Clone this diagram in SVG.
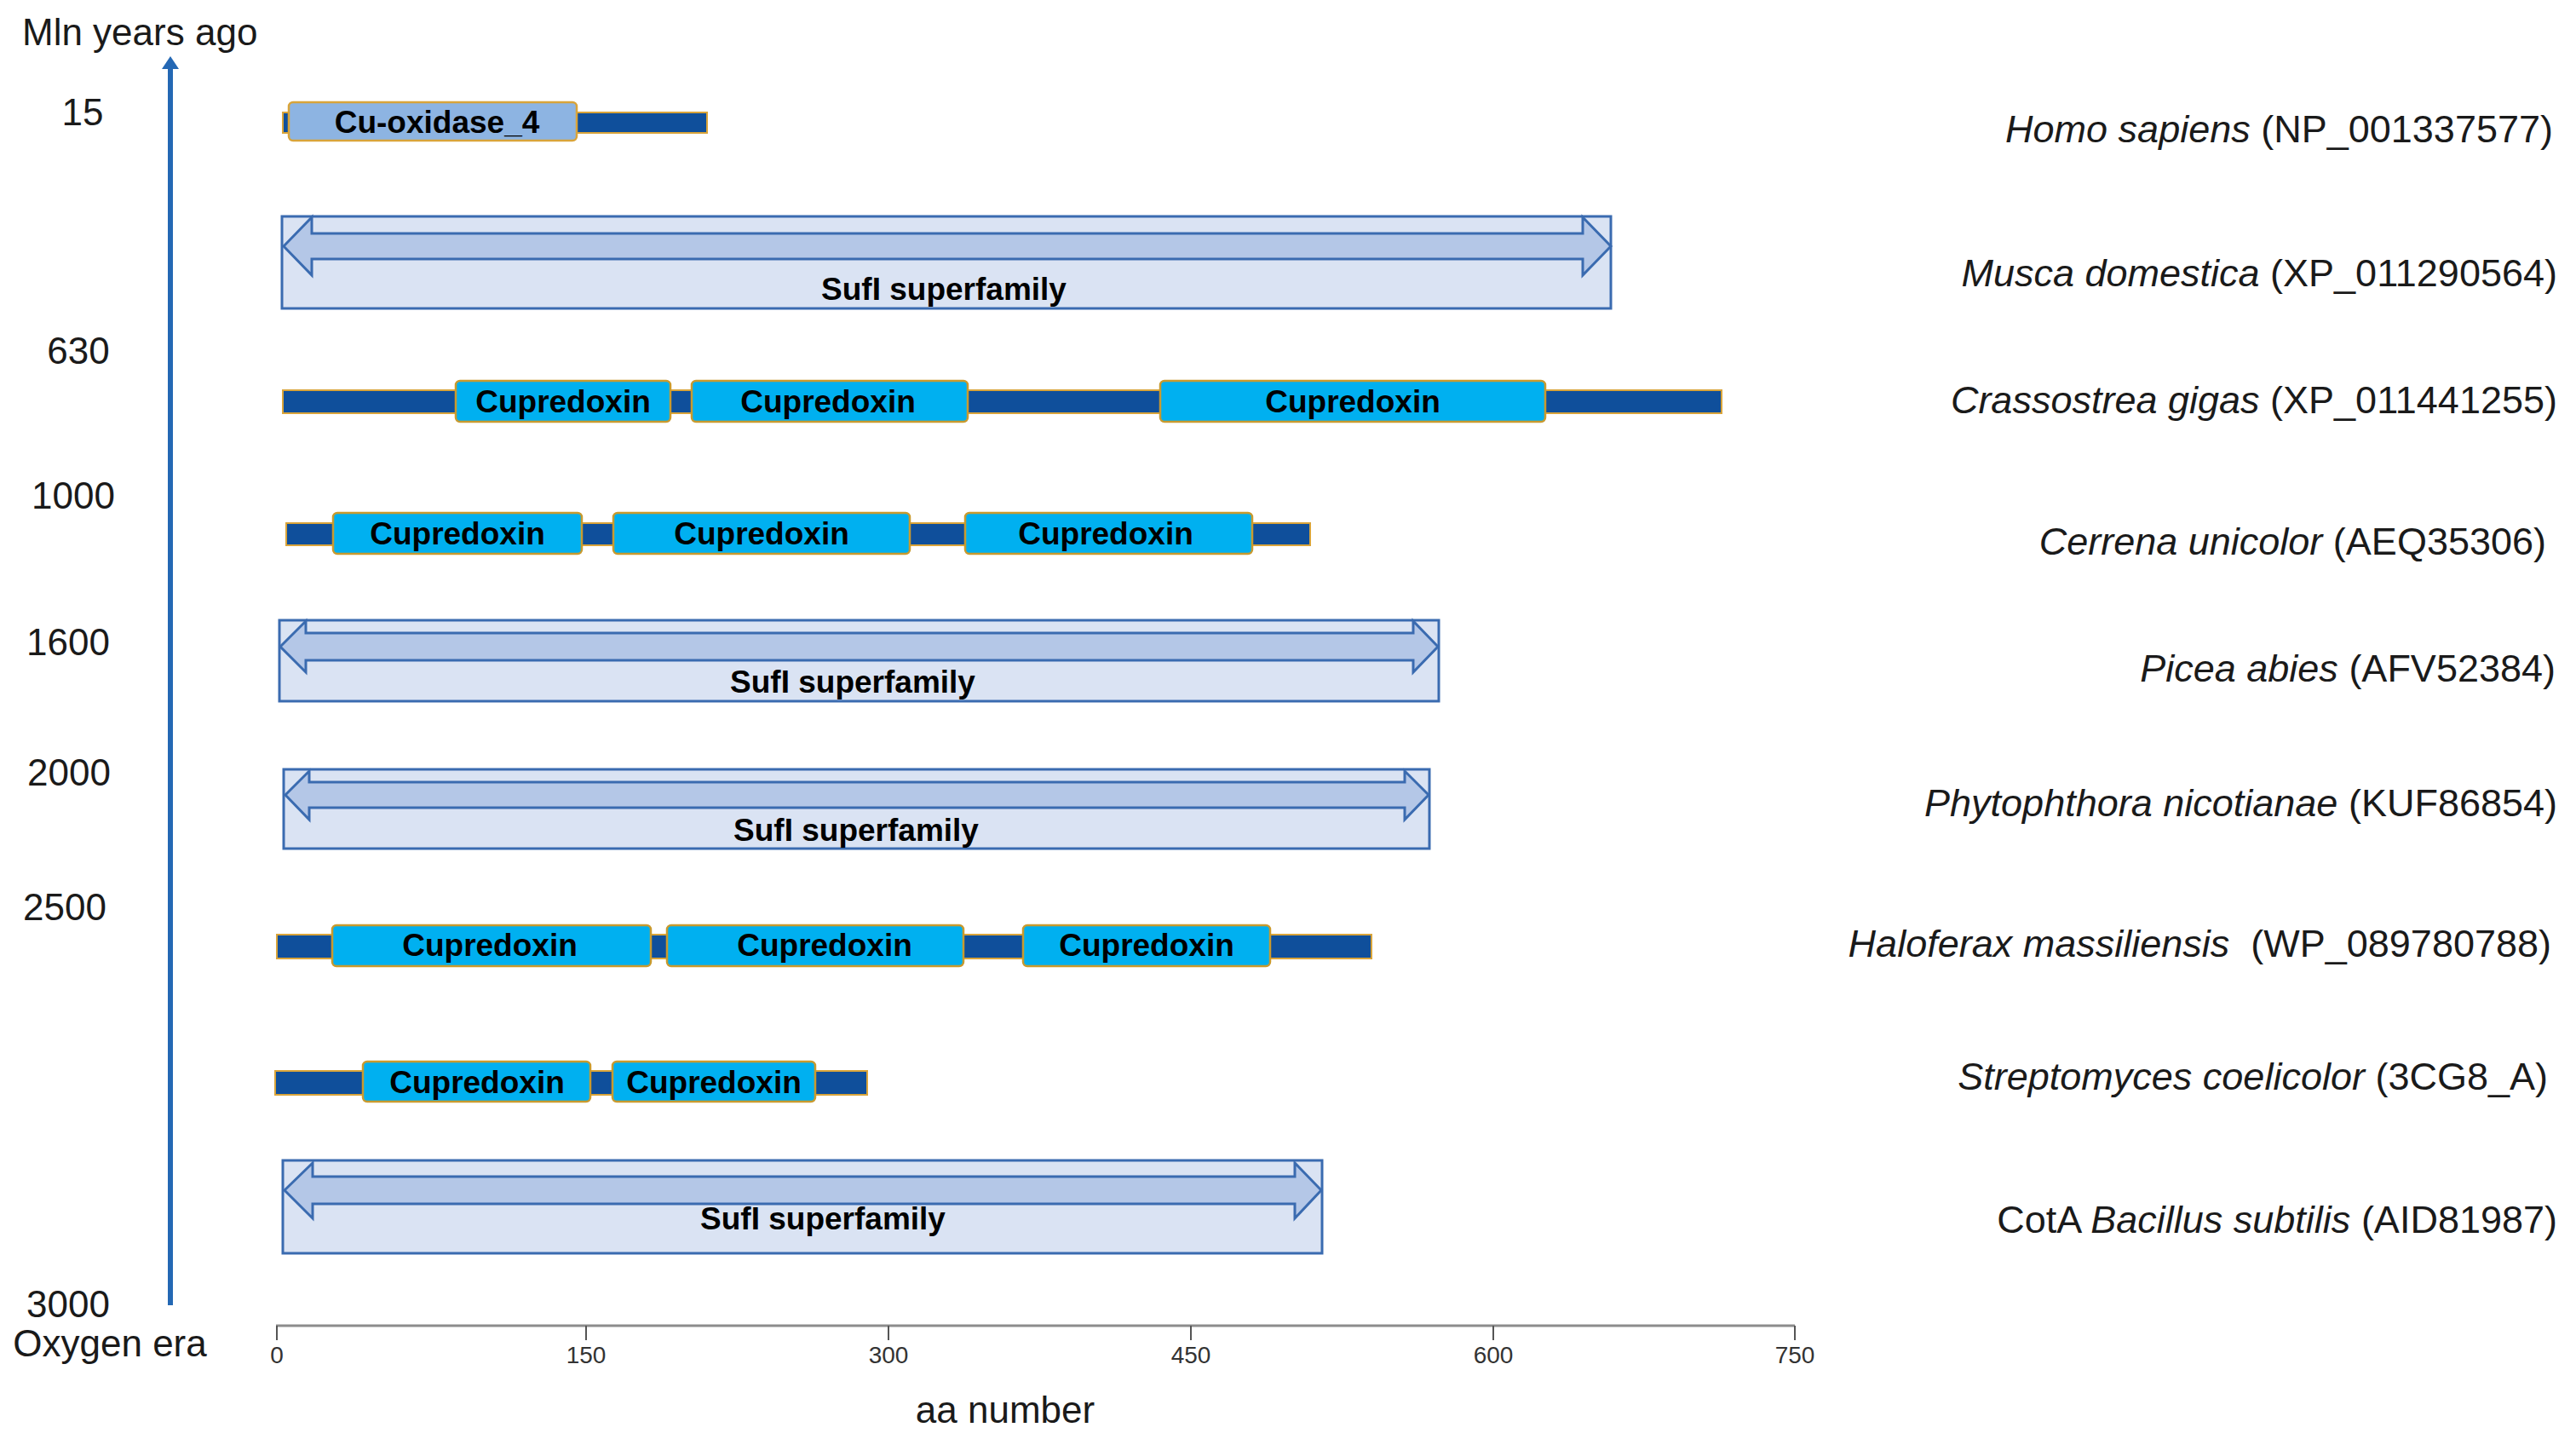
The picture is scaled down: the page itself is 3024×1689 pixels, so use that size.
<svg xmlns="http://www.w3.org/2000/svg" width="3024" height="1689" viewBox="0 0 3024 1689">
<style>
  .txt { font-family: "Liberation Sans", Arial, sans-serif; font-size: 44px; fill: #1a1a1a; }
  .num { font-family: "Liberation Sans", Arial, sans-serif; font-size: 44px; fill: #1a1a1a; text-anchor: middle; }
  .tick { font-family: "Liberation Sans", Arial, sans-serif; font-size: 28px; fill: #333; text-anchor: middle; }
  .lbl { font-family: "Liberation Sans", Arial, sans-serif; font-size: 45px; fill: #1a1a1a; text-anchor: end; }
  .dom { font-family: "Liberation Sans", Arial, sans-serif; font-size: 37px; font-weight: bold; fill: #000; text-anchor: middle; }
  .bb { fill: #0F4F9B; stroke: #D9A43A; stroke-width: 2; }
  .cup { fill: #00B0F0; stroke: #C99A2E; stroke-width: 2.5; }
  .cuox { fill: #8DB4E2; stroke: #D9A43A; stroke-width: 2.5; }
  .sbox { fill: #DAE3F3; stroke: #3A6BB0; stroke-width: 3; }
  .sarr { fill: #B4C7E7; stroke: #3A6BB0; stroke-width: 3; stroke-linejoin: miter; }
  .it { font-style: italic; }
</style>

<g id="time-axis">
  <line x1="200" y1="78" x2="200" y2="1532" stroke="#2468B4" stroke-width="6"/>
  <polygon points="200,66 190,81 210,81" fill="#2468B4"/>
  <text class="txt" x="26" y="53">Mln years ago</text>
  <text class="num" x="97" y="147">15</text>
  <text class="num" x="92" y="427">630</text>
  <text class="num" x="86" y="597">1000</text>
  <text class="num" x="80" y="769">1600</text>
  <text class="num" x="81" y="922">2000</text>
  <text class="num" x="76" y="1080">2500</text>
  <text class="num" x="80" y="1546">3000</text>
  <text class="num" x="129" y="1592">Oxygen era</text>
</g>

<g id="aa-axis">
  <line x1="324" y1="1556" x2="2107" y2="1556" stroke="#8C8C8C" stroke-width="3"/>
  <g stroke="#555" stroke-width="2">
    <line x1="325" y1="1556" x2="325" y2="1573"/>
    <line x1="688" y1="1556" x2="688" y2="1573"/>
    <line x1="1043" y1="1556" x2="1043" y2="1573"/>
    <line x1="1398" y1="1556" x2="1398" y2="1573"/>
    <line x1="1753" y1="1556" x2="1753" y2="1573"/>
    <line x1="2107" y1="1556" x2="2107" y2="1573"/>
  </g>
  <text class="tick" x="325" y="1600">0</text>
  <text class="tick" x="688" y="1600">150</text>
  <text class="tick" x="1043" y="1600">300</text>
  <text class="tick" x="1398" y="1600">450</text>
  <text class="tick" x="1753" y="1600">600</text>
  <text class="tick" x="2107" y="1600">750</text>
  <text class="num" x="1180" y="1670">aa number</text>
</g>

<g id="homo-sapiens">
  <rect class="bb" x="332" y="132" width="498" height="24"/>
  <rect class="cuox" x="339" y="120" width="338" height="45" rx="5"/>
  <text class="dom" x="513" y="156">Cu-oxidase_4</text>
  <text class="lbl" x="2997" y="167"><tspan class="it">Homo sapiens</tspan> (NP_001337577)</text>
</g>

<g id="musca-domestica">
  <rect class="sbox" x="331" y="254" width="1560" height="108"/>
  <polygon class="sarr" points="333,289 366,255 366,274 1858,274 1858,255 1891,289 1858,323 1858,304 366,304 366,323"/>
  <text class="dom" x="1108" y="352">SufI superfamily</text>
  <text class="lbl" x="3002" y="336"><tspan class="it">Musca domestica</tspan> (XP_011290564)</text>
</g>

<g id="crassostrea-gigas">
  <rect class="bb" x="332" y="458" width="1689" height="27"/>
  <rect class="cup" x="535" y="447" width="252" height="48" rx="5"/>
  <rect class="cup" x="812" y="447" width="324" height="48" rx="5"/>
  <rect class="cup" x="1362" y="447" width="452" height="48" rx="5"/>
  <text class="dom" x="661" y="484">Cupredoxin</text>
  <text class="dom" x="972" y="484">Cupredoxin</text>
  <text class="dom" x="1588" y="484">Cupredoxin</text>
  <text class="lbl" x="3002" y="485"><tspan class="it">Crassostrea gigas</tspan> (XP_011441255)</text>
</g>

<g id="cerrena-unicolor">
  <rect class="bb" x="336" y="614" width="1202" height="26"/>
  <rect class="cup" x="391" y="602" width="292" height="48" rx="5"/>
  <rect class="cup" x="720" y="602" width="348" height="48" rx="5"/>
  <rect class="cup" x="1133" y="602" width="337" height="48" rx="5"/>
  <text class="dom" x="537" y="639">Cupredoxin</text>
  <text class="dom" x="894" y="639">Cupredoxin</text>
  <text class="dom" x="1298" y="639">Cupredoxin</text>
  <text class="lbl" x="2989" y="651"><tspan class="it">Cerrena unicolor</tspan> (AEQ35306)</text>
</g>

<g id="picea-abies">
  <rect class="sbox" x="328" y="728" width="1361" height="95"/>
  <polygon class="sarr" points="329,759 359,729 359,743 1659,743 1659,729 1688,759 1659,789 1659,775 359,775 359,789"/>
  <text class="dom" x="1001" y="813">SufI superfamily</text>
  <text class="lbl" x="3000" y="800"><tspan class="it">Picea abies</tspan> (AFV52384)</text>
</g>

<g id="phytophthora-nicotianae">
  <rect class="sbox" x="333" y="903" width="1345" height="93"/>
  <polygon class="sarr" points="335,933 363,905 363,918 1649,918 1649,905 1677,933 1649,962 1649,948 363,948 363,962"/>
  <text class="dom" x="1005" y="987">SufI superfamily</text>
  <text class="lbl" x="3002" y="958"><tspan class="it">Phytophthora nicotianae</tspan> (KUF86854)</text>
</g>

<g id="haloferax-massiliensis">
  <rect class="bb" x="325" y="1097" width="1285" height="28"/>
  <rect class="cup" x="390" y="1086" width="374" height="48" rx="5"/>
  <rect class="cup" x="783" y="1086" width="348" height="48" rx="5"/>
  <rect class="cup" x="1201" y="1086" width="290" height="48" rx="5"/>
  <text class="dom" x="575" y="1122">Cupredoxin</text>
  <text class="dom" x="968" y="1122">Cupredoxin</text>
  <text class="dom" x="1346" y="1122">Cupredoxin</text>
  <text class="lbl" x="2995" y="1123" style="white-space:pre"><tspan class="it">Haloferax massiliensis</tspan>  (WP_089780788)</text>
</g>

<g id="streptomyces-coelicolor">
  <rect class="bb" x="323" y="1257" width="695" height="28"/>
  <rect class="cup" x="426" y="1246" width="267" height="47" rx="5"/>
  <rect class="cup" x="719" y="1246" width="238" height="47" rx="5"/>
  <text class="dom" x="560" y="1283">Cupredoxin</text>
  <text class="dom" x="838" y="1283">Cupredoxin</text>
  <text class="lbl" x="2991" y="1279"><tspan class="it">Streptomyces coelicolor</tspan> (3CG8_A)</text>
</g>

<g id="bacillus-subtilis-cota">
  <rect class="sbox" x="332" y="1362" width="1220" height="109"/>
  <polygon class="sarr" points="334,1397 367,1365 367,1381 1520,1381 1520,1365 1551,1397 1520,1430 1520,1413 367,1413 367,1430"/>
  <text class="dom" x="966" y="1443">SufI superfamily</text>
  <text class="lbl" x="3002" y="1447">CotA <tspan class="it">Bacillus subtilis</tspan> (AID81987)</text>
</g>

<g id="connectors"></g>
</svg>
